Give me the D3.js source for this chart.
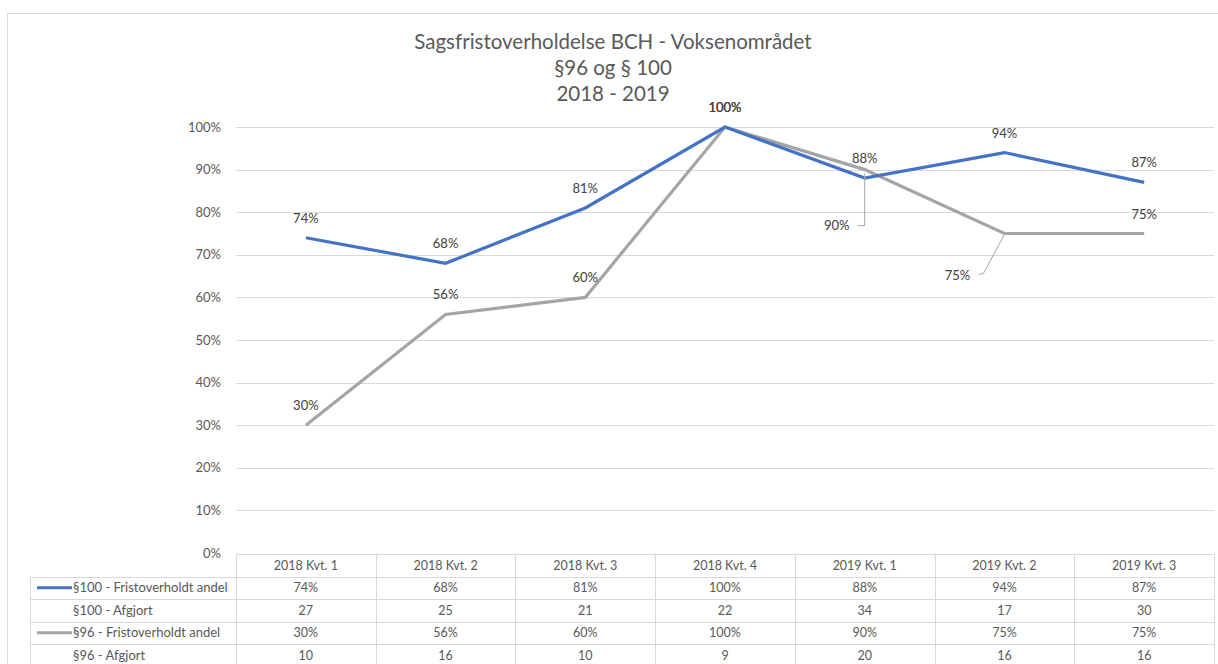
<!DOCTYPE html>
<html>
    <head>
        <style>
            body { margin: 0; background: #fff; }
            svg { font-family: Lato, "Open Sans", sans-serif; }
        </style>
    </head>
    <body>
        <svg></svg>

        <script src="https://d3js.org/d3.v7.min.js"></script>

        <script>
            const categories = ["2018 Kvt. 1", "2018 Kvt. 2", "2018 Kvt. 3", "2018 Kvt. 4", "2019 Kvt. 1", "2019 Kvt. 2", "2019 Kvt. 3"];

            const andel100 = [0.74, 0.68, 0.81, 1.00, 0.88, 0.94, 0.87];
            const afgjort100 = [27, 25, 21, 22, 34, 17, 30];
            const andel96 = [0.30, 0.56, 0.60, 1.00, 0.90, 0.75, 0.75];
            const afgjort96 = [10, 16, 10, 9, 20, 16, 16];

            const yTicks = [0, 0.1, 0.2, 0.3, 0.4, 0.5, 0.6, 0.7, 0.8, 0.9, 1.0];

            const titleLines = ["Sagsfristoverholdelse BCH - Voksenområdet", "§96 og § 100", "2018 - 2019"];

            const width = 1218,
                height = 664;

            const blue = "#4472c4",
                grey = "#a5a5a5",
                gridColor = "#d9d9d9",
                textColor = "#595959";

            const svg = d3.select("svg")
                        .attr("width", width)
                        .attr("height", height);

            // outer chart border
            svg.append("rect")
                .attr("x", 7.5).attr("y", 13.5)
                .attr("width", width).attr("height", height)
                .attr("fill", "none")
                .attr("stroke", gridColor);

            const x = d3.scaleBand()
                        .domain(categories)
                        .range([236, 1214]);

            const y = d3.scaleLinear()
                        .domain([0, 1])
                        .range([553, 127]);

            const cx = function(d, i) { return x(categories[i]) + x.bandwidth() / 2; };

            // title
            svg.append("g").selectAll("text")
                .data(titleLines)
                .enter()
                .append("text")
                .attr("x", 613)
                .attr("y", function(d, i) { return 49 + i * 26; })
                .attr("text-anchor", "middle")
                .attr("font-size", 20.5)
                .attr("fill", textColor)
                .text(function(d) { return d; });

            // gridlines + y labels
            const yAxis = d3.axisLeft(y)
                        .tickValues(yTicks)
                        .tickSize(0)
                        .tickPadding(15)
                        .tickFormat(d3.format(".0%"));

            const gy = svg.append("g")
                .attr("transform", "translate(236,0)")
                .call(yAxis);
            gy.select(".domain").remove();
            gy.selectAll("text")
                .attr("font-family", "Lato, sans-serif")
                .attr("font-size", 13)
                .attr("fill", textColor);

            svg.append("g").selectAll("line")
                .data(yTicks.slice(1))
                .enter()
                .append("line")
                .attr("x1", 236).attr("x2", 1214)
                .attr("y1", function(d) { return Math.round(y(d)) + 0.5; })
                .attr("y2", function(d) { return Math.round(y(d)) + 0.5; })
                .attr("stroke", gridColor);

            // lines
            const line = d3.line()
                        .x(cx)
                        .y(function(d) { return y(d); });

            svg.append("path")
                .datum(andel96)
                .attr("d", line)
                .attr("fill", "none")
                .attr("stroke", grey)
                .attr("stroke-width", 3.2);

            svg.append("path")
                .datum(andel100)
                .attr("d", line)
                .attr("fill", "none")
                .attr("stroke", blue)
                .attr("stroke-width", 3.2);

            // data labels
            const fmt = d3.format(".0%");
            const labelStyle = function(sel) {
                sel.attr("text-anchor", "middle")
                    .attr("font-size", 13)
                    .attr("fill", "#404040");
            };

            svg.append("g").selectAll("text")
                .data(andel100)
                .enter()
                .append("text")
                .attr("x", cx)
                .attr("y", function(d) { return y(d) - 15; })
                .call(labelStyle)
                .text(fmt);

            // labels of §96 that were dragged away from their points
            const moved96 = { 4: [-28, 60], 5: [-47, 46] };

            svg.append("g").selectAll("text")
                .data(andel96)
                .enter()
                .append("text")
                .attr("x", function(d, i) { return cx(d, i) + (moved96[i] ? moved96[i][0] : 0); })
                .attr("y", function(d, i) { return moved96[i] ? y(d) + moved96[i][1] : y(d) - 15; })
                .call(labelStyle)
                .text(fmt);

            // leader lines
            const lead = svg.append("g")
                .attr("fill", "none")
                .attr("stroke", "#a6a6a6")
                .attr("stroke-width", 1);
            const p4 = [cx(0, 4), y(andel96[4])];
            lead.append("path")
                .attr("d", "M" + (p4[0] - 7) + "," + (p4[1] + 56) + "H" + p4[0] + "V" + (p4[1] + 4));
            const p5 = [cx(0, 5), y(andel96[5])];
            lead.append("path")
                .attr("d", "M" + (p5[0] - 26) + "," + (p5[1] + 41) + "L" + (p5[0] - 21) + "," + (p5[1] + 40) + "L" + p5[0] + "," + (p5[1] + 1));

            // data table
            const rows = [
                { name: "§100 - Fristoverholdt andel", values: andel100.map(fmt), color: blue },
                { name: "§100 - Afgjort", values: afgjort100 },
                { name: "§96 - Fristoverholdt andel", values: andel96.map(fmt), color: grey },
                { name: "§96 - Afgjort", values: afgjort96 }
            ];

            const table = svg.append("g")
                .attr("font-size", 12.5)
                .attr("fill", textColor);

            const rowTop = 554,
                rowH = 22.5;

            const tgrid = table.append("g")
                .attr("stroke", gridColor)
                .attr("stroke-width", 1);

            // header top + verticals
            tgrid.append("line")
                .attr("x1", 236).attr("x2", 1214)
                .attr("y1", rowTop + 0.5).attr("y2", rowTop + 0.5);
            tgrid.selectAll(".hline")
                .data(d3.range(rows.length + 1))
                .enter()
                .append("line")
                .attr("x1", 30).attr("x2", 1214)
                .attr("y1", function(d) { return Math.round(rowTop + rowH * (d + 1)) + 0.5; })
                .attr("y2", function(d) { return Math.round(rowTop + rowH * (d + 1)) + 0.5; });
            tgrid.selectAll(".vline")
                .data(categories.concat(["end"]))
                .enter()
                .append("line")
                .attr("x1", function(d, i) { return Math.round(236 + x.step() * i) + 0.5; })
                .attr("x2", function(d, i) { return Math.round(236 + x.step() * i) + 0.5; })
                .attr("y1", rowTop)
                .attr("y2", height);
            tgrid.append("line")
                .attr("x1", 30.5).attr("x2", 30.5)
                .attr("y1", rowTop + rowH).attr("y2", height);

            table.selectAll(".head")
                .data(categories)
                .enter()
                .append("text")
                .attr("x", cx)
                .attr("y", rowTop + rowH / 2 + 4.5)
                .attr("text-anchor", "middle")
                .text(function(d) { return d; });

            const r = table.selectAll(".row")
                .data(rows)
                .enter()
                .append("g")
                .attr("transform", function(d, i) { return "translate(0," + (rowTop + rowH * (i + 1)) + ")"; });

            r.append("text")
                .attr("x", 73)
                .attr("y", rowH / 2 + 4.5)
                .attr("font-size", 13)
                .text(function(d) { return d.name; });

            r.filter(function(d) { return d.color; })
                .append("line")
                .attr("x1", 37).attr("x2", 72)
                .attr("y1", rowH / 2).attr("y2", rowH / 2)
                .attr("stroke", function(d) { return d.color; })
                .attr("stroke-width", 3);

            r.selectAll(".cell")
                .data(function(d) { return d.values; })
                .enter()
                .append("text")
                .attr("x", cx)
                .attr("y", rowH / 2 + 4.5)
                .attr("text-anchor", "middle")
                .text(function(d) { return d; });

        </script>
    </body>
</html>
